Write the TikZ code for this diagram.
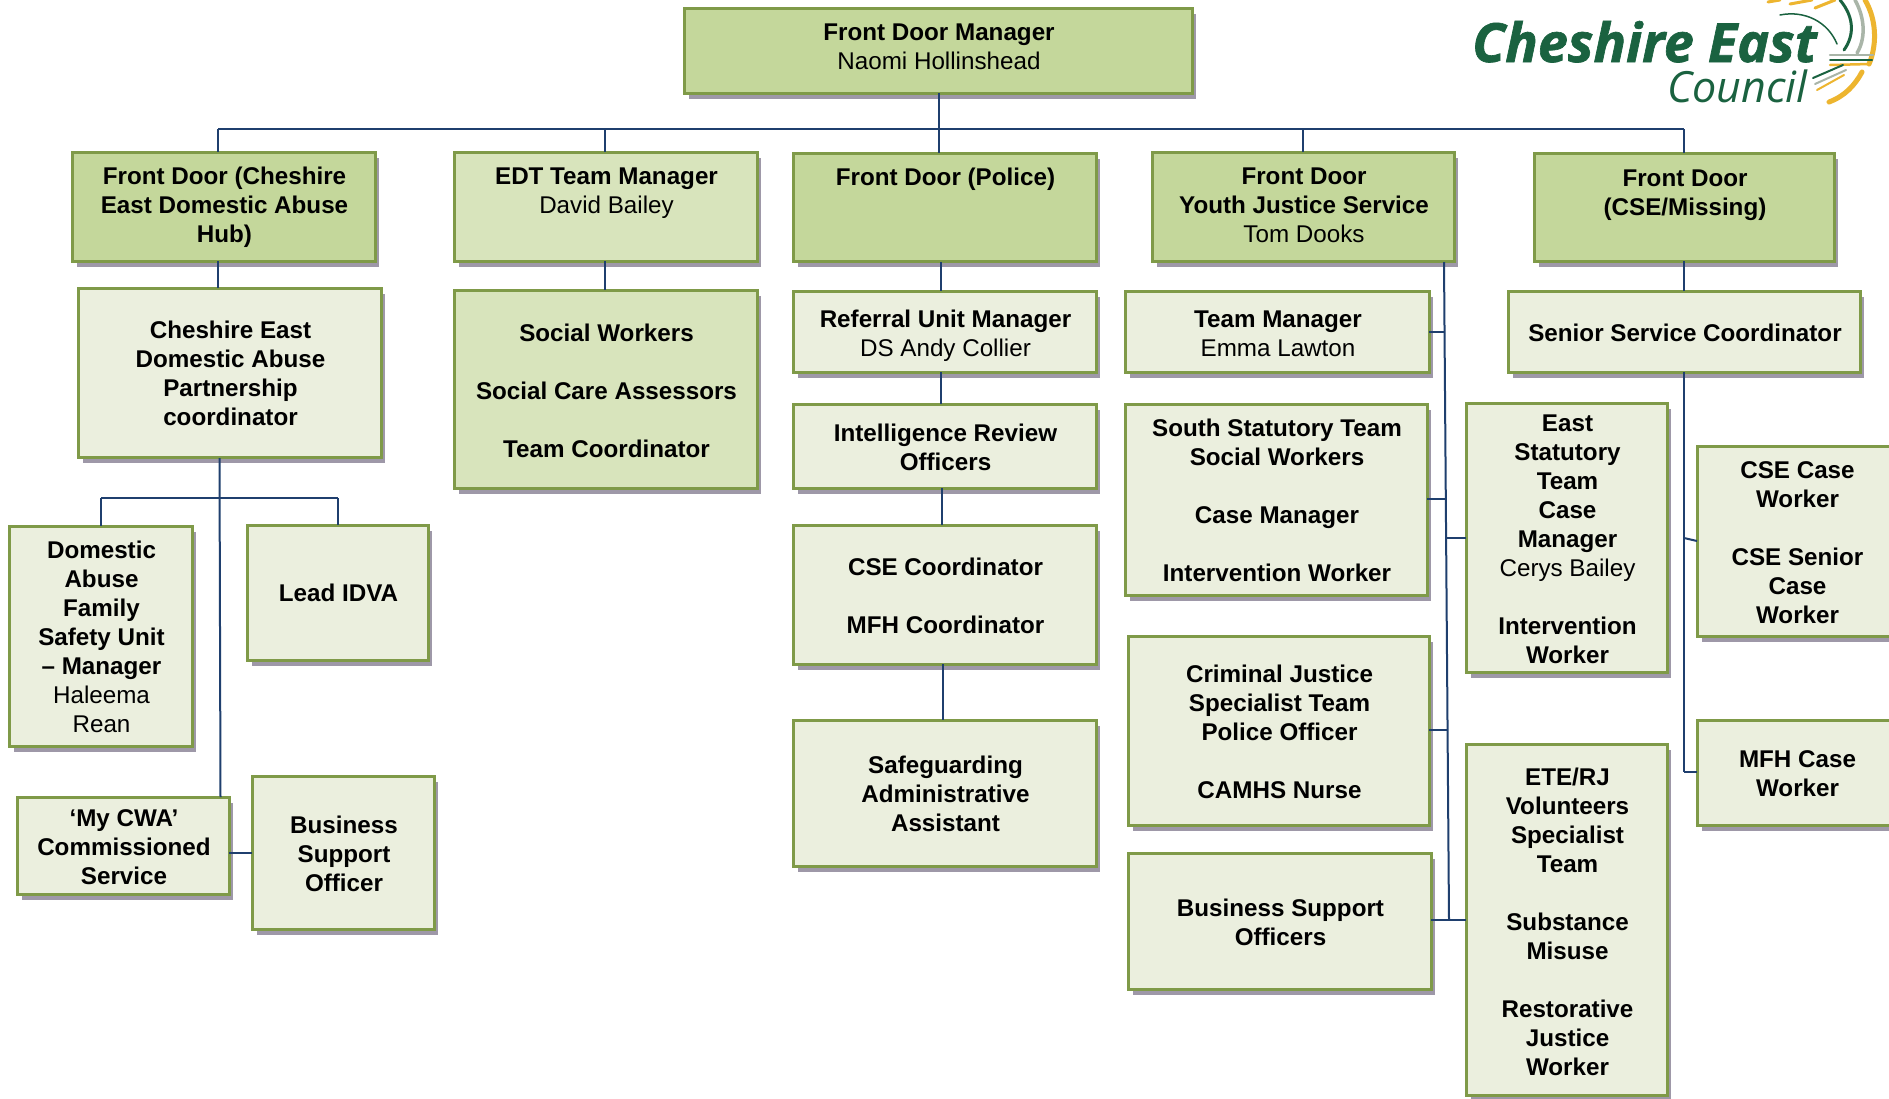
\documentclass[tikz,border=0pt]{standalone}
\usepackage{fontspec}
\setmainfont{Liberation Sans}
\newfontfamily\logofont{Open Sans}[BoldItalicFeatures={FakeBold=1.2}]
\definecolor{edgegreen}{HTML}{7F9A48}
\definecolor{fillpale}{HTML}{EBEFDE}
\definecolor{fillmid}{HTML}{D8E4BC}
\definecolor{fillstrong}{HTML}{C4D79B}
\definecolor{shadowgrey}{HTML}{9E98A8}
\definecolor{linkblue}{HTML}{1F3F6E}
\definecolor{logogreen}{HTML}{1A6240}
\definecolor{logoyellow}{HTML}{EDB52F}
\definecolor{logogrey}{HTML}{A9B5A8}
\tikzset{
  orgbox/.style={draw=edgegreen,line width=3pt,align=center,inner sep=0pt,outer sep=0pt,
    font=\fontsize{24.2}{29}\selectfont\bfseries},
  palebox/.style={orgbox,fill=fillpale},
  midbox/.style={orgbox,fill=fillmid},
  strongbox/.style={orgbox,fill=fillstrong},
  link/.style={draw=linkblue,line width=2pt},
}
\newcommand{\nm}[1]{{\mdseries #1}}
% \bx[text shift down]{name}{x1}{y1}{x2}{y2}{style}{text}
\newcommand{\bx}[8][1.2]{%
  \fill[shadowgrey] ({#3+5},{#4+6}) rectangle ({#5+3},{#6+5});
  \node[#7,minimum width={(#5-#3-1)*1pt},minimum height={(#6-#4-1)*1pt}] (#2) at ({(#3+#5-1)/2},{(#4+#6-1)/2})
    {\hspace*{2pt}\raisebox{\dimexpr-9pt-#1pt\relax}[0pt][0pt]{\begin{tabular}{@{}c@{}}#8\end{tabular}}};}
\begin{document}
\begin{tikzpicture}[x=1pt,y=-1pt]
\useasboundingbox (0,0) rectangle (1889,1098);
\clip (0,0) rectangle (1889,1098);
\fill[white] (0,0) rectangle (1889,1098);

\bx[-3.6]{top}{684}{8}{1193}{94}{strongbox}{Front Door Manager\\\nm{Naomi Hollinshead}}
\bx[-1.5]{ha}{72}{152}{376}{262}{strongbox}{Front Door (Cheshire\\East Domestic Abuse\\Hub)}
\bx[-1.2]{hb}{454}{152}{758}{262}{midbox}{EDT Team Manager\\\nm{David Bailey}\\\mbox{}}
\bx[-1.2]{hc}{793}{153}{1097}{262}{strongbox}{Front Door (Police)\\\mbox{}\\\mbox{}}
\bx[-1.2]{hd}{1152}{152}{1455}{262}{strongbox}{Front Door\\Youth Justice Service\\\nm{Tom Dooks}}
\bx[0]{he}{1534}{153}{1835}{262}{strongbox}{Front Door\\(CSE/Missing)\\\mbox{}}

\bx{coord}{78}{288}{382}{458}{palebox}{Cheshire East\\Domestic Abuse\\Partnership\\coordinator}
\bx{dafs}{9}{526}{193}{747}{palebox}{Domestic\\Abuse\\Family\\Safety Unit\\– Manager\\\nm{Haleema}\\\nm{Rean}}
\bx[0]{idva}{247}{525}{429}{661}{palebox}{Lead IDVA}
\bx{cwa}{17}{797}{230}{895}{palebox}{‘My CWA’\\Commissioned\\Service}
\bx{bso}{252}{776}{435}{930}{palebox}{Business\\Support\\Officer}

\bx[2]{social}{454}{290}{758}{489}{midbox}{Social Workers\\\mbox{}\\Social Care Assessors\\\mbox{}\\Team Coordinator}

\bx[2]{referral}{793}{291}{1097}{373}{palebox}{Referral Unit Manager\\\nm{DS Andy Collier}}
\bx{intel}{793}{404}{1097}{489}{palebox}{Intelligence Review\\Officers}
\bx{csec}{793}{525}{1097}{665}{palebox}{CSE Coordinator\\\mbox{}\\MFH Coordinator}
\bx{safe}{793}{720}{1097}{867}{palebox}{Safeguarding\\Administrative\\Assistant}

\bx[2]{tm}{1125}{291}{1430}{373}{palebox}{Team Manager\\\nm{Emma Lawton}}
\bx[0.5]{south}{1125}{404}{1428}{596}{palebox}{South Statutory Team\\Social Workers\\\mbox{}\\Case Manager\\\mbox{}\\Intervention Worker}
\bx{crim}{1128}{636}{1430}{826}{palebox}{Criminal Justice\\Specialist Team\\Police Officer\\\mbox{}\\CAMHS Nurse}
\bx{bsos}{1128}{853}{1432}{990}{palebox}{Business Support\\Officers}
\bx[1.5]{east}{1466}{403}{1668}{673}{palebox}{East\\Statutory\\Team\\Case\\Manager\\\nm{Cerys Bailey}\\\mbox{}\\Intervention\\Worker}
\bx[2]{ete}{1466}{744}{1668}{1096}{palebox}{ETE/RJ\\Volunteers\\Specialist\\Team\\\mbox{}\\Substance\\Misuse\\\mbox{}\\Restorative\\Justice\\Worker}

\bx{ssc}{1508}{291}{1861}{373}{palebox}{Senior Service Coordinator}
\bx{csew}{1697}{446}{1897}{637}{palebox}{CSE Case\\Worker\\\mbox{}\\CSE Senior\\Case\\Worker}
\bx[1]{mfh}{1697}{720}{1897}{826}{palebox}{MFH Case\\Worker}

% junction coordinates
\coordinate (busa) at (218,129);
\coordinate (busb) at (605,129);
\coordinate (busc) at (938.5,129);
\coordinate (busd) at (1303,129);
\coordinate (buse) at (1684,129);
\coordinate (trunka) at (219.5,458);
\coordinate (forkl) at (101,498);
\coordinate (forkr) at (338,498);
\coordinate (spinetop) at (1444,262);
\coordinate (spinebot) at (1449,920);
\coordinate (spineeast) at (1445,538);
\coordinate (spinecrim) at (1447.5,730);
\coordinate (spinetm) at (1444.5,332);
\coordinate (spinesouth) at (1445,499);
\coordinate (cseend) at (1684,772);
\coordinate (csebr) at (1684,538);
\coordinate (cseland) at (1697,541);
\coordinate (intop) at (941,262);

\begin{scope}[link]
\draw (busa) -- (buse);
\draw (top.south -| busc) -- (busc);
\foreach \n/\h in {busa/ha,busb/hb,busc/hc,busd/hd,buse/he}{\draw (\n) -- (\n |- \h.north);}
\draw (busa |- ha.south) -- (busa |- coord.north);
\draw (busb |- hb.south) -- (busb |- social.north);
\draw (intop) -- (intop |- referral.north);
\draw (intop |- referral.south) -- (intop |- intel.north);
\draw ([xshift=1pt]intop |- intel.south) -- ([xshift=1pt]intop |- csec.north);
\draw ([xshift=2pt]intop |- csec.south) -- ([xshift=2pt]intop |- safe.north);
\draw (trunka) -- ([xshift=1pt]trunka |- cwa.north);
\draw (forkl) -- (forkr);
\draw (forkl) -- (forkl |- dafs.north);
\draw (forkr) -- (forkr |- idva.north);
\draw (cwa.east |- bso.west) -- (bso.west);
\draw (spinetop) -- (spinebot);
\draw (tm.east |- spinetm) -- (spinetm);
\draw (south.east |- spinesouth) -- (spinesouth);
\draw (spineeast) -- (spineeast -| east.west);
\draw (crim.east |- spinecrim) -- (spinecrim);
\draw (bsos.east |- spinebot) -- (ete.west |- spinebot);
\draw (buse |- he.south) -- (buse |- ssc.north);
\draw (buse |- ssc.south) -- (cseend);
\draw (csebr) -- (cseland);
\draw (cseend) -- (cseend -| mfh.west);
\end{scope}

% logo
\begin{scope}[line cap=round]
\draw[logoyellow,line width=5pt] (1865,0) .. controls (1878,22) and (1876,48) .. (1869,64);
\draw[logoyellow,line width=5pt] (1862,72) .. controls (1855,85) and (1845,96) .. (1829,102);
\draw[logogrey,line width=3.5pt] (1855,0) .. controls (1866,20) and (1865,40) .. (1857,53);
\draw[logogreen,line width=3pt] (1840,0) .. controls (1855,18) and (1854,36) .. (1844,50);
\draw[logogreen,line width=1.5pt] (1780,15) .. controls (1805,10) and (1828,22) .. (1837,44);
\draw[logogrey,line width=2.5pt] (1830,55) -- (1873,55);
\draw[logogreen,line width=2pt] (1830,60) -- (1872,60);
\draw[logoyellow,line width=2.5pt] (1830,65) -- (1870,64);
\draw[logogreen,line width=2pt] (1813,78) -- (1843,65);
\draw[logogrey,line width=2pt] (1815,84) -- (1846,70);
\draw[logoyellow,line width=2pt] (1817,90) -- (1844,75);
\draw[logoyellow,line width=3pt] (1768,2) -- (1780,0);
\draw[logoyellow,line width=3pt] (1790,4) -- (1812,0);
\draw[logoyellow,line width=3pt] (1815,8) -- (1835,0);
\end{scope}
\node[anchor=base west,inner sep=0pt,text=logogreen,font=\fontsize{54}{54}\selectfont\logofont\bfseries\itshape] (logotitle) at (1472,62) {Cheshire East};
\node[anchor=base west,inner sep=0pt,text=logogreen,font=\fontsize{43}{43}\selectfont\logofont\itshape] (logosub) at (1667,102) {Council};
\end{tikzpicture}
\end{document}
